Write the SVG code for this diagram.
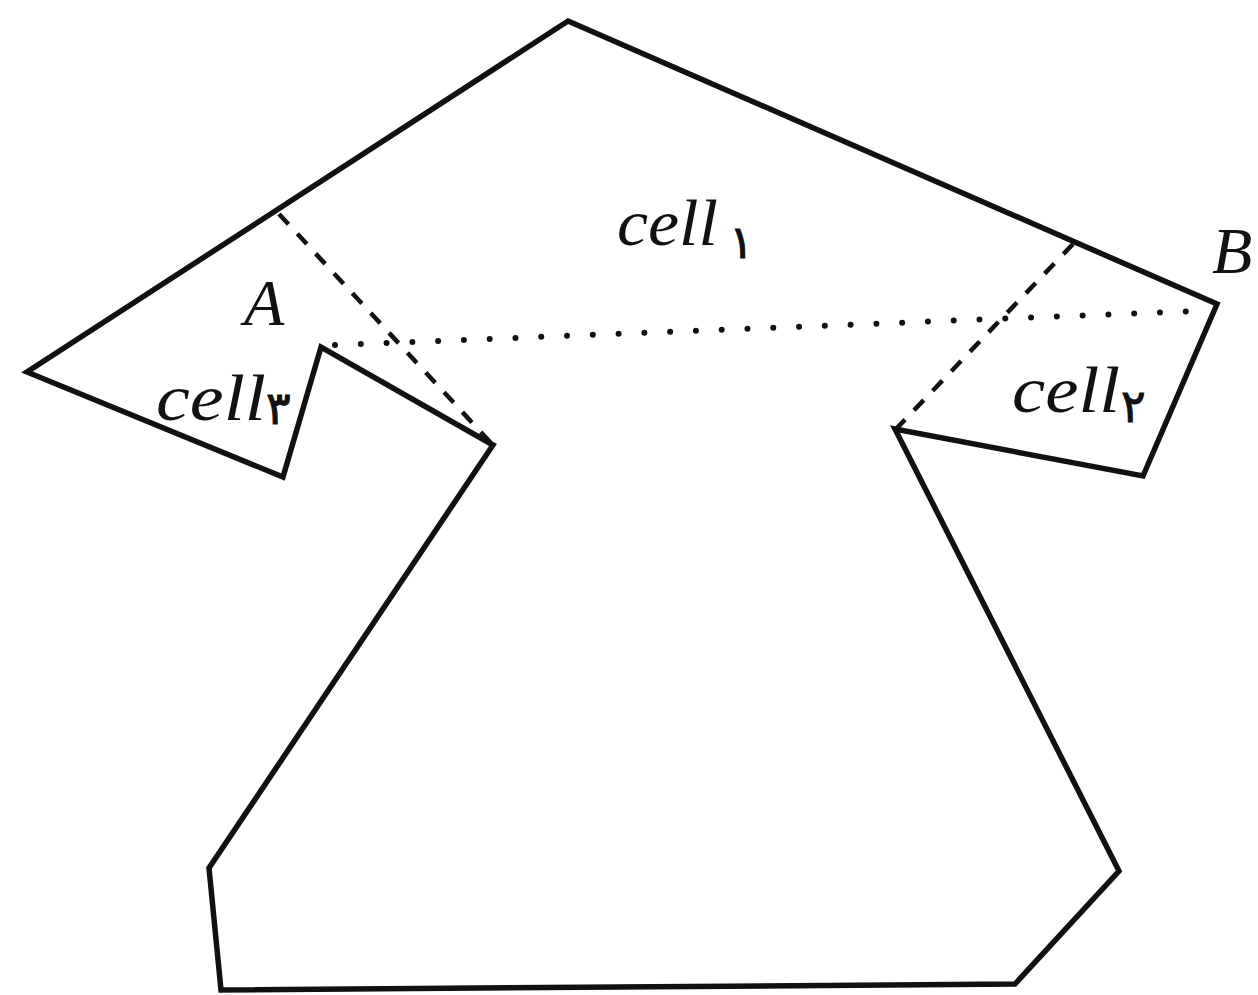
<svg xmlns="http://www.w3.org/2000/svg" width="1258" height="995" viewBox="0 0 1258 995">
<style>
.outline{fill:none;stroke:#111;stroke-width:5.5;stroke-linejoin:miter;stroke-linecap:round}
.dash{fill:none;stroke:#111;stroke-width:4.5;stroke-dasharray:14 13;stroke-linecap:butt}
.dot{fill:none;stroke:#111;stroke-width:6;stroke-dasharray:0 25.8;stroke-linecap:round}
.lbl{font-family:"Liberation Serif","DejaVu Serif",serif;font-style:italic;font-size:66px;fill:#111}
.sub{font-family:"DejaVu Sans","Noto Sans",sans-serif;font-size:46px;fill:#111;stroke:#111;stroke-width:1}
</style>
<rect width="1258" height="995" fill="#fff"/>
<g id="polygon">
<polygon class="outline" points="568,21 1217,304 1143,476 895,429 1119,871 1015,984 221,990 209,868 493,445 321,347 283,477 27,372"/>
</g>
<g id="connectors">
<line class="dash" x1="279" y1="214" x2="491" y2="443"/>
<line class="dash" x1="1073" y1="244" x2="897" y2="428"/>
<line class="dot" x1="335" y1="345" x2="1197" y2="311"/>
</g>
<g id="cell1">
<text class="lbl" x="617" y="245" textLength="101" lengthAdjust="spacingAndGlyphs">cell</text>
<text class="sub" x="729" y="258">۱</text>
</g>
<g id="cell2">
<text class="lbl" x="1012" y="412" textLength="108" lengthAdjust="spacingAndGlyphs">cell</text>
<text class="sub" x="1121" y="422">۲</text>
</g>
<g id="cell3">
<text class="lbl" x="156" y="420" textLength="110" lengthAdjust="spacingAndGlyphs">cell</text>
<text class="sub" x="266" y="424">۳</text>
</g>
<g id="labelA">
<text class="lbl" x="244" y="325">A</text>
</g>
<g id="labelB">
<text class="lbl" x="1212" y="273">B</text>
</g>
</svg>
